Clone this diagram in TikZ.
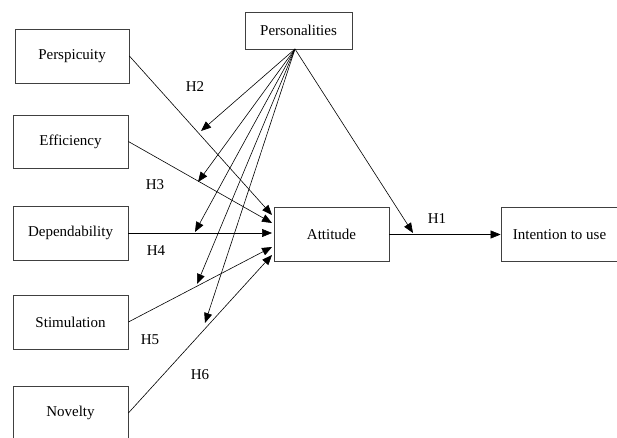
\documentclass[tikz,border=0pt]{standalone}
\usepackage{fontspec}
\setmainfont{Liberation Serif}
\usetikzlibrary{arrows.meta}
\begin{document}
\begin{tikzpicture}[x=1pt,y=-1pt,
  box/.style={draw=black!75,line width=0.8pt,rectangle,inner sep=0pt,align=center,font=\fontsize{15}{18}\selectfont},
  lbl/.style={font=\fontsize{15}{18}\selectfont,inner sep=0pt},
  arr/.style={line width=0.6pt,-{Triangle[length=10pt,width=8pt]}}]
\useasboundingbox (0,0) rectangle (617,438);
\clip (0,0) rectangle (617,438);
\fill[white] (0,0) rectangle (617,438);
\node[box,minimum width=107pt,minimum height=37pt] (pers) at (298.5,30.5) {Personalities};
\node[box,minimum width=114pt,minimum height=54pt] (persp) at (72,56) {Perspicuity};
\node[box,minimum width=115pt,minimum height=53pt] (eff) at (70.5,141.5) {Efficiency};
\node[box,minimum width=115pt,minimum height=54pt] (dep) at (70.5,233) {Dependability};
\node[box,minimum width=115pt,minimum height=54pt] (stim) at (70.5,322) {Stimulation};
\node[box,minimum width=115pt,minimum height=54pt] (nov) at (70.5,413) {Novelty};
\node[box,minimum width=115pt,minimum height=54pt] (att) at (331.5,234.5) {Attitude};
\node[box,minimum width=117pt,minimum height=54pt] (int) at (559.5,234.5) {Intention to use};
% labels
\node[lbl] (h1) at (437,219) {H1};
\node[lbl] (h2) at (195,87) {H2};
\node[lbl] (h3) at (155,185) {H3};
\node[lbl] (h4) at (156,251) {H4};
\node[lbl] (h5) at (150,340) {H5};
\node[lbl] (h6) at (200,375) {H6};
% coordinates
\coordinate (pb) at (295,49);
\coordinate (a1) at (272,215);
\coordinate (a2) at (272,223);
\coordinate (a3) at (272,233);
\coordinate (a4) at (272,247);
\coordinate (a5) at (272,255);
\coordinate (m2) at (201,131);
\coordinate (m3) at (198,182);
\coordinate (m4) at (195,232);
\coordinate (m5) at (197,284);
\coordinate (m6) at (205,323);
\coordinate (m1) at (413,233);
% paths to attitude
\draw[arr] (persp.east) -- (a1);
\draw[arr] (eff.east) -- (a2);
\draw[arr] (dep.east) -- (a3);
\draw[arr] (stim.east) -- (a4);
\draw[arr] (nov.east) -- (a5);
\draw[arr] (att.east) -- (int.west);
% moderators
\draw[arr] (pb) -- (m2);
\draw[arr] (pb) -- (m3);
\draw[arr] (pb) -- (m4);
\draw[arr] (pb) -- (m5);
\draw[arr] (pb) -- (m6);
\draw[arr] (pb) -- (m1);
\end{tikzpicture}
\end{document}
